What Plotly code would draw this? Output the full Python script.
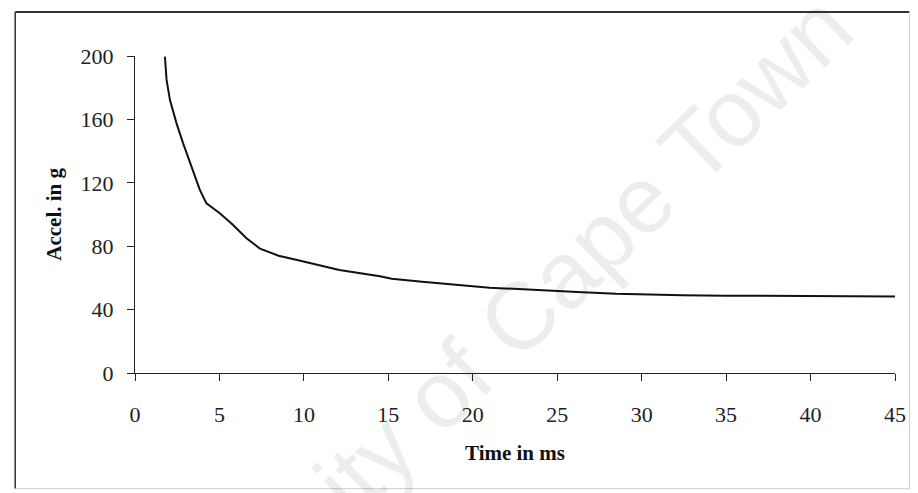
import plotly.graph_objects as go

# Data
time_ms = [1.77, 1.87, 2.07, 2.46, 2.85, 3.35, 3.84, 4.23, 5.02, 5.81, 6.6, 7.4,
           8.5, 9.6, 11.0, 12.1, 14.5, 15.2, 17.0, 19.4, 21.0, 22.7, 24.7, 26.5,
           28.5, 30.0, 32.4, 35.0, 40.3, 45.0]
accel_g = [199.6, 184.9, 172.2, 157.5, 144.9, 130.2, 115.5, 107.0, 100.8, 93.4, 85.0, 78.5,
           74.0, 71.3, 67.5, 65.0, 61.0, 59.5, 57.5, 55.0, 53.8, 53.0, 51.8, 51.0,
           50.0, 49.6, 49.0, 48.8, 48.6, 48.3]

x_ticks = [0, 5, 10, 15, 20, 25, 30, 35, 40, 45]
y_ticks = [0, 40, 80, 120, 160, 200]
x_title = "Time in ms"
y_title = "Accel. in g"
watermark = "University of Cape Town"

FONT = "Liberation Serif"

fig = go.Figure()
fig.add_trace(go.Scatter(x=time_ms, y=accel_g, mode="lines",
                         line=dict(color="#111111", width=2),
                         hoverinfo="x+y", showlegend=False))

axis_common = dict(showgrid=False, zeroline=False, showline=True, linecolor="#222222",
                   linewidth=1, ticks="outside", ticklen=7, tickwidth=1, tickcolor="#222222",
                   tickfont=dict(family=FONT, size=22, color="#222222"))

fig.update_xaxes(range=[0, 45], tickvals=x_ticks, ticklabelstandoff=15, **axis_common)
fig.update_yaxes(range=[0, 200], tickvals=y_ticks, ticklabelstandoff=9, **axis_common)

# frame around the figure
L, R, T, B = -0.1576, 1.0190, 1.1388, -0.365
frame = [
    dict(x0=L, x1=R, y0=T, y1=T, color="#333333", w=2),
    dict(x0=L, x1=L, y0=B, y1=T, color="#333333", w=1.5),
    dict(x0=R, x1=R, y0=B, y1=T, color="#cccccc", w=1),
    dict(x0=L, x1=R, y0=B, y1=B, color="#cccccc", w=1),
]
for f in frame:
    fig.add_shape(type="line", xref="paper", yref="paper", x0=f["x0"], x1=f["x1"],
                  y0=f["y0"], y1=f["y1"], line=dict(color=f["color"], width=f["w"]))

fig.add_annotation(text=watermark, xref="paper", yref="paper", x=0.437, y=0.02,
                   xanchor="center", yanchor="middle", textangle=-44, showarrow=False,
                   font=dict(family="Liberation Sans", size=95, color="rgba(0,0,0,0.07)"))

fig.add_annotation(text="<b>%s</b>" % x_title, xref="paper", yref="paper", x=0.5, y=-0.252,
                   xanchor="center", yanchor="middle", showarrow=False,
                   font=dict(family=FONT, size=21, color="#111111"))
fig.add_annotation(text="<b>%s</b>" % y_title, xref="paper", yref="paper", x=-0.1076, y=0.5,
                   xanchor="center", yanchor="middle", textangle=-90, showarrow=False,
                   font=dict(family=FONT, size=21, color="#111111"))

fig.update_layout(width=910, height=485, margin=dict(l=127, r=21, t=48, b=120),
                  paper_bgcolor="white", plot_bgcolor="white")

fig.write_html("out.html")
